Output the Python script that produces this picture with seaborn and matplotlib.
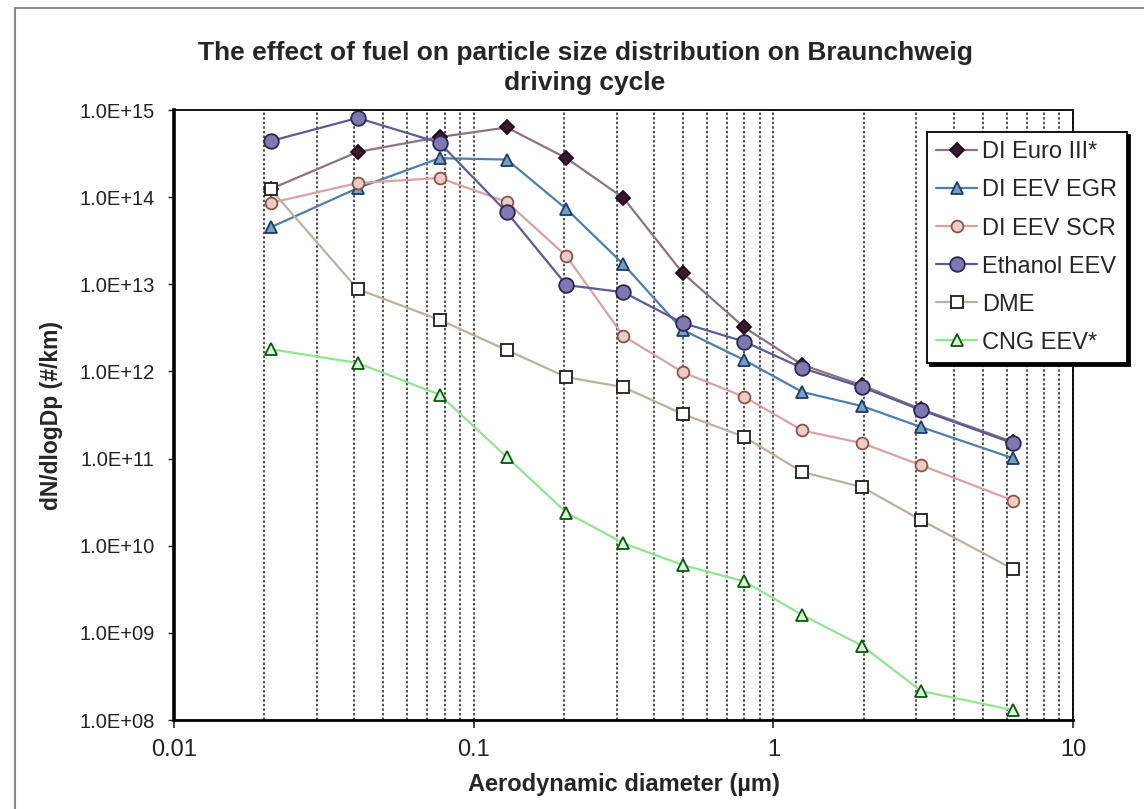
import matplotlib
matplotlib.use('Agg')
import matplotlib.pyplot as plt
import matplotlib.ticker as mticker
from matplotlib.lines import Line2D
import pandas as pd
import seaborn as sns

# Particle size (aerodynamic diameter, um) of the impactor stages
diameter = [0.021, 0.041, 0.077, 0.129, 0.204, 0.316, 0.498, 0.80, 1.25, 1.98, 3.11, 6.31]

# dN/dlogDp (#/km)
di_euro3 = [1.24e14, 3.3e14, 4.9e14, 6.3e14, 2.8e14, 9.8e13, 1.35e13, 3.2e12, 1.19e12, 6.9e11, 3.7e11, 1.55e11]
di_eev_egr = [4.5e13, 1.27e14, 2.8e14, 2.7e14, 7.3e13, 1.7e13, 3.0e12, 1.35e12, 5.8e11, 4.0e11, 2.3e11, 1.01e11]
di_eev_scr = [8.6e13, 1.45e14, 1.66e14, 8.8e13, 2.1e13, 2.55e12, 9.8e11, 5.1e11, 2.1e11, 1.5e11, 8.4e10, 3.3e10]
ethanol_eev = [4.4e14, 8.1e14, 4.2e14, 6.7e13, 9.8e12, 8.1e12, 3.6e12, 2.2e12, 1.09e12, 6.6e11, 3.6e11, 1.5e11]
dme = [1.24e14, 8.8e12, 3.9e12, 1.76e12, 8.6e11, 6.6e11, 3.25e11, 1.77e11, 7.0e10, 4.7e10, 1.97e10, 5.4e9]
cng_eev = [1.8e12, 1.25e12, 5.4e11, 1.04e11, 2.4e10, 1.07e10, 6.0e9, 3.9e9, 1.6e9, 7.1e8, 2.15e8, 1.3e8]

series_names = ['DI Euro III*', 'DI EEV EGR', 'DI EEV SCR', 'Ethanol EEV', 'DME', 'CNG EEV*']
series_values = [di_euro3, di_eev_egr, di_eev_scr, ethanol_eev, dme, cng_eev]

y_ticks = [1e8, 1e9, 1e10, 1e11, 1e12, 1e13, 1e14, 1e15]
x_ticks = [0.01, 0.1, 1, 10]

# line colour, marker, marker face, marker edge, marker size
styles = {
    'DI Euro III*': ('#8f7282', 'D', '#3a1a2c', '#1e0a16', 7),
    'DI EEV EGR': ('#4f7ea8', '^', '#72a0c8', '#1f3c5c', 9),
    'DI EEV SCR': ('#d8a2a2', 'o', '#ecccc4', '#8a5444', 8.5),
    'Ethanol EEV': ('#5c5c92', 'o', '#8078b2', '#2a2850', 10.5),
    'DME': ('#bab29a', 's', 'white', '#1e1e1e', 8),
    'CNG EEV*': ('#92e492', '^', '#d8f4d8', '#0c560c', 8.5),
}

df = pd.DataFrame({
    'diameter': diameter * len(series_names),
    'value': [v for vals in series_values for v in vals],
    'series': [n for n in series_names for _ in diameter],
})

sns.set_theme(style='white')
plt.rcParams['font.family'] = ['Liberation Sans', 'DejaVu Sans']

fig = plt.figure(figsize=(11.44, 8.09), dpi=100)
ax = fig.add_axes([174 / 1144, 1 - 720 / 809, (1073 - 174) / 1144, (720 - 110) / 809])

for name in series_names:
    color, marker, face, edge, size = styles[name]
    sns.lineplot(data=df[df['series'] == name], x='diameter', y='value', ax=ax,
                 color=color, linewidth=1.6, marker=marker, markersize=size,
                 markerfacecolor=face, markeredgecolor=edge, markeredgewidth=1.3,
                 label=name)

ax.set_xscale('log')
ax.set_yscale('log')
ax.set_xlim(0.01, 10)
ax.set_ylim(1e8, 1e15)

ax.yaxis.set_major_locator(mticker.FixedLocator(y_ticks))
ax.yaxis.set_minor_locator(mticker.NullLocator())
ax.yaxis.set_major_formatter(mticker.FuncFormatter(lambda v, p: '{:.1E}'.format(v)))
ax.xaxis.set_major_locator(mticker.FixedLocator(x_ticks))
ax.xaxis.set_major_formatter(mticker.FuncFormatter(lambda v, p: '{:g}'.format(v)))
ax.xaxis.set_minor_locator(mticker.LogLocator(base=10, subs=range(2, 10), numticks=20))
ax.xaxis.set_minor_formatter(mticker.NullFormatter())

ax.grid(False)
ax.grid(True, axis='x', which='both', color='#222222', linestyle=(0, (1.6, 1.4)), linewidth=1.1)

ax.tick_params(axis='y', which='major', direction='out', length=4, width=1, left=True,
               labelsize=14.5, colors='#222222', pad=10)
ax.tick_params(axis='x', which='major', direction='out', length=6, width=1.2, bottom=True,
               labelsize=17, colors='#222222', pad=8)
ax.tick_params(axis='x', which='minor', length=0)

for side, lw in [('left', 2.6), ('bottom', 2.0), ('top', 1.3), ('right', 1.3)]:
    ax.spines[side].set_visible(True)
    ax.spines[side].set_color('black')
    ax.spines[side].set_linewidth(lw)

ax.set_xlabel('Aerodynamic diameter (µm)', fontsize=17, fontweight='bold', labelpad=8)
ax.set_ylabel('dN/dlogDp (#/km)', fontsize=16.5, fontweight='bold', labelpad=12)

fig.text(585 / 1144, 1 - 53 / 809, 'The effect of fuel on particle size distribution on Braunchweig',
         ha='center', va='center', fontsize=19, fontweight='bold')
fig.text(585 / 1144, 1 - 83 / 809, 'driving cycle',
         ha='center', va='center', fontsize=19, fontweight='bold')

leg = ax.legend(loc='upper left', bbox_to_anchor=(927 / 1144, 1 - 132 / 809),
                bbox_transform=fig.transFigure, borderaxespad=0, fontsize=17,
                frameon=True, fancybox=False, shadow={'color': 'black', 'alpha': 1},
                edgecolor='black', handlelength=1.7, handletextpad=0.25,
                labelspacing=0.68, borderpad=0.4)
leg.get_frame().set_linewidth(1.3)
leg.get_frame().set_facecolor('white')

# outer chart-area border (only the left and top edges are visible)
fig.add_artist(Line2D([15 / 1144, 15 / 1144], [0, 1 - 8 / 809], transform=fig.transFigure,
                      color='#8a8a8a', linewidth=1.5))
fig.add_artist(Line2D([15 / 1144, 1], [1 - 8 / 809, 1 - 8 / 809], transform=fig.transFigure,
                      color='#8a8a8a', linewidth=1.5))

fig.savefig('out.png', dpi=100)
